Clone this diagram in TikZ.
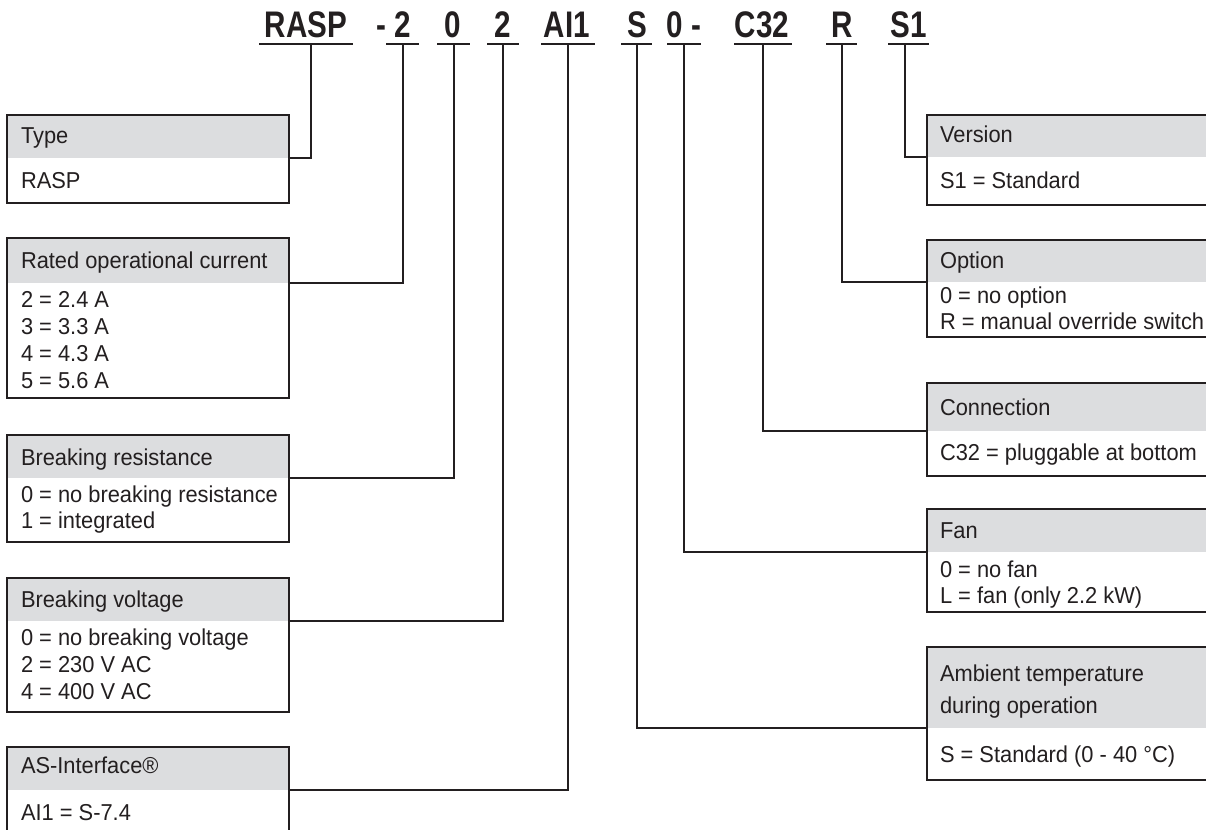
\documentclass[tikz,border=0pt]{standalone}
\usepackage{fontspec}
\setmainfont{Liberation Sans}[FakeStretch=0.95]
\newfontfamily\hdfont{Liberation Sans}[FakeStretch=0.8]
\definecolor{ink}{HTML}{231F20}
\definecolor{hdgray}{HTML}{DCDDDF}
\tikzset{
  every node/.style={inner sep=0pt, outer sep=0pt, text=ink},
  seg/.style={font=\fontsize{37}{37}\selectfont\hdfont\bfseries, anchor=base},
  uline/.style={line width=2pt, draw=ink},
  conn/.style={line width=1.6pt, draw=ink},
  frame/.style={line width=2.4pt, draw=ink},
  hdrbox/.style={fill=hdgray, anchor=north west},
  bodybox/.style={fill=white, anchor=north west},
  txt/.style={font=\fontsize{23}{27}\selectfont, anchor=base west},
}
\newcommand\kbox[6]{%
  \node[hdrbox, minimum width=#6, minimum height={#4-#3}] (#1h) at (#2,#3) {};
  \node[bodybox, minimum width=#6, minimum height={#5-#4}] (#1b) at (#1h.south west) {};
  \draw[frame] (#1h.north west) rectangle (#1b.south east);
}
\begin{document}
\begin{tikzpicture}[x=1pt,y=-1pt]
\useasboundingbox (0,0) rectangle (1206,829);

% ---- type code segments
\node[seg] (tRASP) at (306,38) {RASP};
\node[seg] (tCur) at (393.5,38) {- 2};
\node[seg] (tRes) at (453,38) {0};
\node[seg] (tVol) at (503,38) {2};
\node[seg] (tASI) at (567,38) {AI1};
\node[seg] (tAmb) at (637,38) {S};
\node[seg] (tFan) at (684,38) {0 -};
\node[seg] (tCon) at (762,38) {C32};
\node[seg] (tOpt) at (842,38) {R};
\node[seg] (tVer) at (909,38) {S1};

\coordinate (uRASP) at (311,44);
\coordinate (uCur) at (403,44);
\coordinate (uRes) at (454,44);
\coordinate (uVol) at (503,44);
\coordinate (uASI) at (568,44);
\coordinate (uAmb) at (637,44);
\coordinate (uFan) at (684,44);
\coordinate (uCon) at (763,44);
\coordinate (uOpt) at (842,44);
\coordinate (uVer) at (905,44);

\draw[uline] ([xshift=-52pt]uRASP) -- ([xshift=42pt]uRASP);
\draw[uline] ([xshift=-17pt]uCur) -- ([xshift=16pt]uCur);
\draw[uline] ([xshift=-17pt]uRes) -- ([xshift=16pt]uRes);
\draw[uline] ([xshift=-16pt]uVol) -- ([xshift=16pt]uVol);
\draw[uline] ([xshift=-27pt]uASI) -- ([xshift=27pt]uASI);
\draw[uline] ([xshift=-16pt]uAmb) -- ([xshift=15pt]uAmb);
\draw[uline] ([xshift=-17pt]uFan) -- ([xshift=17pt]uFan);
\draw[uline] ([xshift=-29pt]uCon) -- ([xshift=29pt]uCon);
\draw[uline] ([xshift=-16pt]uOpt) -- ([xshift=15pt]uOpt);
\draw[uline] ([xshift=-17pt]uVer) -- ([xshift=24pt]uVer);

% ---- left boxes
\kbox{type}{7}{115}{158}{203}{282}
\kbox{rated}{7}{238}{283}{398}{282}
\kbox{bres}{7}{435}{478}{542}{282}
\kbox{bvolt}{7}{578}{621}{712}{282}
\kbox{asi}{7}{747}{790}{870}{282}

% ---- right boxes
\kbox{ver}{927}{115}{157}{205}{295}
\kbox{opt}{927}{240}{282}{337}{295}
\kbox{con}{927}{383}{431}{476}{295}
\kbox{fan}{927}{509}{552}{612}{295}
\kbox{amb}{927}{647}{728}{780}{295}

% ---- connectors
\draw[conn] (uRASP) |- (typeh.south east);
\draw[conn] (uCur) |- (ratedh.south east);
\draw[conn] (uRes) |- (bresh.south east);
\draw[conn] (uVol) |- (bvolth.south east);
\draw[conn] (uASI) |- (asih.south east);
\draw[conn] (uVer) |- (verh.south west);
\draw[conn] (uOpt) |- (opth.south west);
\draw[conn] (uCon) |- (conh.south west);
\draw[conn] (uFan) |- (fanh.south west);
\draw[conn] (uAmb) |- (ambh.south west);

% ---- left texts
\node[txt] (typeT) at (21,144) {Type};
\node[txt] (typeL1) at (21,188) {RASP};

\node[txt] (ratedT) at (21,268) {Rated operational current};
\node[txt] (ratedL1) at (21,307) {2 = 2.4 A};
\node[txt] (ratedL2) at (21,334) {3 = 3.3 A};
\node[txt] (ratedL3) at (21,361) {4 = 4.3 A};
\node[txt] (ratedL4) at (21,388) {5 = 5.6 A};

\node[txt] (bresT) at (21,465) {Breaking resistance};
\node[txt] (bresL1) at (21,502) {0 = no breaking resistance};
\node[txt] (bresL2) at (21,528) {1 = integrated};

\node[txt] (bvoltT) at (21,607) {Breaking voltage};
\node[txt] (bvoltL1) at (21,645) {0 = no breaking voltage};
\node[txt] (bvoltL2) at (21,672) {2 = 230 V AC};
\node[txt] (bvoltL3) at (21,699) {4 = 400 V AC};

\node[txt] (asiT) at (21,773) {AS-Interface®};
\node[txt] (asiL1) at (21,820) {AI1 = S-7.4};

% ---- right texts
\node[txt] (verT) at (940,143) {Version};
\node[txt] (verL1) at (940,188) {S1 = Standard};

\node[txt] (optT) at (940,268) {Option};
\node[txt] (optL1) at (940,303) {0 = no option};
\node[txt] (optL2) at (940,329) {R = manual override switch};

\node[txt] (conT) at (940,415) {Connection};
\node[txt] (conL1) at (940,460) {C32 = pluggable at bottom};

\node[txt] (fanT) at (940,538) {Fan};
\node[txt] (fanL1) at (940,577) {0 = no fan};
\node[txt] (fanL2) at (940,603) {L = fan (only 2.2 kW)};

\node[txt] (ambT1) at (940,681) {Ambient temperature};
\node[txt] (ambT2) at (940,713) {during operation};
\node[txt] (ambL1) at (940,762) {S = Standard (0 - 40 °C)};
\end{tikzpicture}
\end{document}
